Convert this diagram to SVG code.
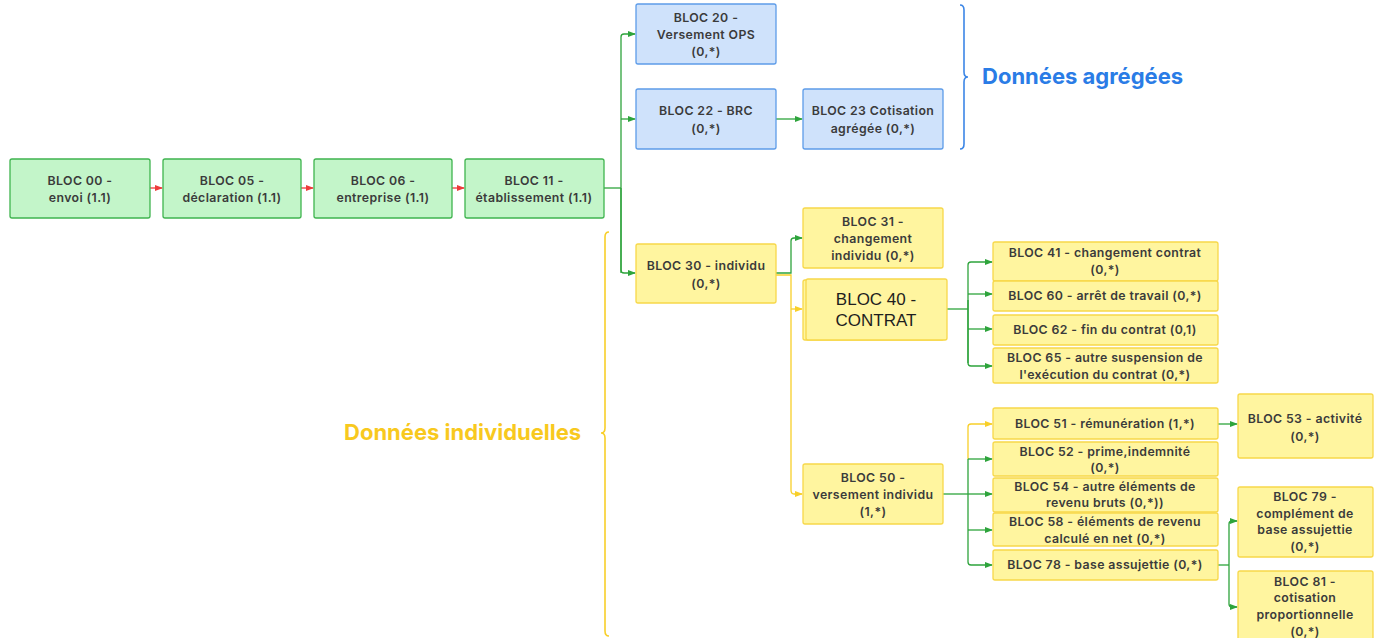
<svg xmlns="http://www.w3.org/2000/svg" width="1379" height="638" viewBox="0 0 1379 638">
<style>
.g{fill:#c3f5c9;stroke:#3fb44f;stroke-width:1.3}
.b{fill:#cfe2fb;stroke:#5d9ce9;stroke-width:1.3}
.y{fill:#fff59f;stroke:#f7d84a;stroke-width:1.3}
.t{font-family:Inter,"Noto Sans",sans-serif;font-weight:600;font-size:12.3px;letter-spacing:0.4px;fill:#3b3b3b;text-anchor:middle}
.big{font-family:"Liberation Sans",Arial,sans-serif;font-size:17px;fill:#1e1e1e;text-anchor:middle}
.lbl{font-family:Inter,"Noto Sans",sans-serif;font-weight:700;font-size:22px}
.cg{fill:none;stroke:#2ea43c;stroke-width:1.3}
.cy{fill:none;stroke:#f8cf2a;stroke-width:1.3}
.cr{fill:none;stroke:#ee3b3b;stroke-width:1.3}
</style>
<defs>
<marker id="ag" markerWidth="8" markerHeight="6" refX="7" refY="3" orient="auto" markerUnits="userSpaceOnUse"><path d="M0,0 L8,3 L0,6 z" fill="#2ea43c"/></marker>
<marker id="ay" markerWidth="8" markerHeight="6" refX="7" refY="3" orient="auto" markerUnits="userSpaceOnUse"><path d="M0,0 L8,3 L0,6 z" fill="#f8cf2a"/></marker>
<marker id="ar" markerWidth="8" markerHeight="6" refX="7" refY="3" orient="auto" markerUnits="userSpaceOnUse"><path d="M0,0 L8,3 L0,6 z" fill="#ee3b3b"/></marker>
</defs>
<rect width="1379" height="638" fill="#ffffff"/>

<g id="connectors">
<path class="cr" d="M150,188 H162" marker-end="url(#ar)"/>
<path class="cr" d="M301,188 H313" marker-end="url(#ar)"/>
<path class="cr" d="M452,188 H464" marker-end="url(#ar)"/>
<path class="cg" d="M604,188 H621"/>
<path class="cg" d="M621,273 V37 Q621,34 624,34 H635" marker-end="url(#ag)"/>
<path class="cg" d="M621,119 H635" marker-end="url(#ag)"/>
<path class="cg" d="M621,188 V270 Q621,273 624,273 H635" marker-end="url(#ag)"/>
<path class="cg" d="M776,119 H802" marker-end="url(#ag)"/>
<path class="cg" d="M776,273 H791 V241 Q791,238 794,238 H802" marker-end="url(#ag)"/>
<path class="cy" d="M776,275 H791 V490 Q791,494 794,494 H802" marker-end="url(#ay)"/>
<path class="cy" d="M791,309 H802" marker-end="url(#ay)"/>
<path class="cg" d="M947,309 H968"/>
<path class="cg" d="M968,363 V265 Q968,262 971,262 H992" marker-end="url(#ag)"/>
<path class="cg" d="M968,294 H992" marker-end="url(#ag)"/>
<path class="cg" d="M968,329 H992" marker-end="url(#ag)"/>
<path class="cg" d="M968,300 V363 Q968,366 971,366 H992" marker-end="url(#ag)"/>
<path class="cg" d="M943,494 H968"/>
<path class="cy" d="M968,459 V427 Q968,424 971,424 H992" marker-end="url(#ay)"/>
<path class="cg" d="M968,459 H992" marker-end="url(#ag)"/>
<path class="cg" d="M968,459 V562 Q968,565 971,565 H992" marker-end="url(#ag)"/>
<path class="cg" d="M968,494 H992" marker-end="url(#ag)"/>
<path class="cg" d="M968,530 H992" marker-end="url(#ag)"/>
<path class="cg" d="M1218,424 H1237" marker-end="url(#ag)"/>
<path class="cg" d="M1218,565 H1229"/>
<path class="cg" d="M1229,565 V524 Q1229,521 1232,521 H1237" marker-end="url(#ag)"/>
<path class="cg" d="M1229,565 V604 Q1229,607 1232,607 H1237" marker-end="url(#ag)"/>
</g>

<g id="brace-agregees">
<path d="M960,5 Q964,5 964,10 V72 Q964,77 968,77 Q964,77 964,82 V144 Q964,149 960,149" fill="none" stroke="#3c86e6" stroke-width="1.6"/>
<text class="lbl" x="982" y="84" fill="#2a7ce6">Données agrégées</text>
</g>
<g id="brace-individuelles">
<path d="M609,232 Q605,232 605,237 V428 Q605,433 601,433 Q605,433 605,438 V631 Q605,636 609,636" fill="none" stroke="#f8cf2a" stroke-width="1.6"/>
<text class="lbl" x="344" y="440" fill="#f8c91e">Données individuelles</text>
</g>

<g id="bloc00"><rect class="g" x="10" y="159" width="140" height="59" rx="2"/><text class="t" x="80" y="185">BLOC 00 -</text><text class="t" x="80" y="202">envoi (1.1)</text></g>
<g id="bloc05"><rect class="g" x="163" y="159" width="138" height="59" rx="2"/><text class="t" x="232" y="185">BLOC 05 -</text><text class="t" x="232" y="202">déclaration (1.1)</text></g>
<g id="bloc06"><rect class="g" x="314" y="159" width="138" height="59" rx="2"/><text class="t" x="383" y="185">BLOC 06 -</text><text class="t" x="383" y="202">entreprise (1.1)</text></g>
<g id="bloc11"><rect class="g" x="465" y="159" width="139" height="59" rx="2"/><text class="t" x="534" y="185">BLOC 11 -</text><text class="t" x="534" y="202">établissement (1.1)</text></g>

<g id="bloc20"><rect class="b" x="636" y="4" width="140" height="60" rx="2"/><text class="t" x="706" y="22">BLOC 20 -</text><text class="t" x="706" y="39">Versement OPS</text><text class="t" x="706" y="56">(0,*)</text></g>
<g id="bloc22"><rect class="b" x="636" y="89" width="140" height="60" rx="2"/><text class="t" x="706" y="115">BLOC 22 - BRC</text><text class="t" x="706" y="133">(0,*)</text></g>
<g id="bloc23"><rect class="b" x="803" y="89" width="140" height="60" rx="2"/><text class="t" x="873" y="115">BLOC 23 Cotisation</text><text class="t" x="873" y="133">agrégée (0,*)</text></g>

<g id="bloc30"><rect class="y" x="636" y="244" width="140" height="59" rx="2"/><text class="t" x="706" y="270">BLOC 30 - individu</text><text class="t" x="706" y="288">(0,*)</text></g>
<g id="bloc31"><rect class="y" x="803" y="208" width="140" height="60" rx="2"/><text class="t" x="873" y="226">BLOC 31 -</text><text class="t" x="873" y="243">changement</text><text class="t" x="873" y="260">individu (0,*)</text></g>
<g id="bloc40"><rect class="y" x="803" y="280" width="141" height="60" rx="2"/><rect class="y" x="806" y="279" width="141" height="61" rx="2"/><text class="big" x="876" y="305">BLOC 40 -</text><text class="big" x="876" y="326">CONTRAT</text></g>
<g id="bloc41"><rect class="y" x="993" y="242" width="225" height="39" rx="2"/><text class="t" x="1105" y="257">BLOC 41 - changement contrat</text><text class="t" x="1105" y="274">(0,*)</text></g>
<g id="bloc60"><rect class="y" x="993" y="281" width="225" height="30" rx="2"/><text class="t" x="1105" y="300">BLOC 60 - arrêt de travail (0,*)</text></g>
<g id="bloc62"><rect class="y" x="993" y="315" width="225" height="30" rx="2"/><text class="t" x="1105" y="334">BLOC 62 - fin du contrat (0,1)</text></g>
<g id="bloc65"><rect class="y" x="993" y="348" width="225" height="35" rx="2"/><text class="t" x="1105" y="362">BLOC 65 - autre suspension de</text><text class="t" x="1105" y="379">l'exécution du contrat (0,*)</text></g>

<g id="bloc50"><rect class="y" x="803" y="464" width="140" height="60" rx="2"/><text class="t" x="873" y="482">BLOC 50 -</text><text class="t" x="873" y="499">versement individu</text><text class="t" x="873" y="516">(1,*)</text></g>
<g id="bloc51"><rect class="y" x="993" y="408" width="225" height="31" rx="2"/><text class="t" x="1105" y="428">BLOC 51 - rémunération (1,*)</text></g>
<g id="bloc52"><rect class="y" x="993" y="442" width="225" height="34" rx="2"/><text class="t" x="1105" y="456">BLOC 52 - prime,indemnité</text><text class="t" x="1105" y="472">(0,*)</text></g>
<g id="bloc54"><rect class="y" x="993" y="478" width="225" height="34" rx="2"/><text class="t" x="1105" y="491">BLOC 54 - autre éléments de</text><text class="t" x="1105" y="507">revenu bruts (0,*))</text></g>
<g id="bloc58"><rect class="y" x="993" y="513" width="225" height="33" rx="2"/><text class="t" x="1105" y="526">BLOC 58 - éléments de revenu</text><text class="t" x="1105" y="543">calculé en net (0,*)</text></g>
<g id="bloc78"><rect class="y" x="993" y="550" width="225" height="30" rx="2"/><text class="t" x="1105" y="569">BLOC 78 - base assujettie (0,*)</text></g>
<g id="bloc53"><rect class="y" x="1238" y="394" width="135" height="64" rx="2"/><text class="t" x="1305" y="423">BLOC 53 - activité</text><text class="t" x="1305" y="441">(0,*)</text></g>
<g id="bloc79"><rect class="y" x="1238" y="487" width="135" height="70" rx="2"/><text class="t" x="1305" y="501">BLOC 79 -</text><text class="t" x="1305" y="518">complément de</text><text class="t" x="1305" y="534">base assujettie</text><text class="t" x="1305" y="551">(0,*)</text></g>
<g id="bloc81"><rect class="y" x="1238" y="571" width="135" height="72" rx="2"/><text class="t" x="1305" y="586">BLOC 81 -</text><text class="t" x="1305" y="602">cotisation</text><text class="t" x="1305" y="619">proportionnelle</text><text class="t" x="1305" y="636">(0,*)</text></g>
</svg>
